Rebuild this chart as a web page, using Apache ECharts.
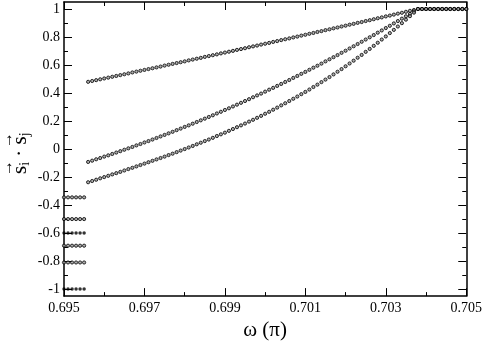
<!DOCTYPE html>
<html>
<head>
<meta charset="utf-8">
<script src="https://cdn.jsdelivr.net/npm/echarts@6/dist/echarts.min.js"></script>
<style>
  html, body { margin: 0; padding: 0; background: #fff; }
  #spin-chart { width: 485px; height: 346px; }
</style>
</head>
<body>
<div id="spin-chart"></div>
<script>
// omega (in units of pi) for the three correlation curves
const curveOmega = [
  0.6956, 0.6957, 0.6958, 0.6959, 0.6960, 0.6961, 0.6962, 0.6963, 0.6964, 0.6965,
  0.6966, 0.6967, 0.6968, 0.6969, 0.6970, 0.6971, 0.6972, 0.6973, 0.6974, 0.6975,
  0.6976, 0.6977, 0.6978, 0.6979, 0.6980, 0.6981, 0.6982, 0.6983, 0.6984, 0.6985,
  0.6986, 0.6987, 0.6988, 0.6989, 0.6990, 0.6991, 0.6992, 0.6993, 0.6994, 0.6995,
  0.6996, 0.6997, 0.6998, 0.6999, 0.7000, 0.7001, 0.7002, 0.7003, 0.7004, 0.7005,
  0.7006, 0.7007, 0.7008, 0.7009, 0.7010, 0.7011, 0.7012, 0.7013, 0.7014, 0.7015,
  0.7016, 0.7017, 0.7018, 0.7019, 0.7020, 0.7021, 0.7022, 0.7023, 0.7024, 0.7025,
  0.7026, 0.7027, 0.7028, 0.7029, 0.7030, 0.7031, 0.7032, 0.7033, 0.7034, 0.7035,
  0.7036, 0.7037, 0.7038, 0.7039, 0.7040, 0.7041, 0.7042, 0.7043, 0.7044, 0.7045,
  0.7046, 0.7047, 0.7048, 0.7049, 0.7050
];
const upperCurve = [
  0.480, 0.486, 0.492, 0.498, 0.504, 0.510, 0.516, 0.522, 0.528, 0.534,
  0.540, 0.547, 0.553, 0.559, 0.565, 0.571, 0.577, 0.583, 0.589, 0.596,
  0.602, 0.608, 0.614, 0.620, 0.626, 0.633, 0.639, 0.645, 0.651, 0.658,
  0.664, 0.670, 0.676, 0.683, 0.689, 0.695, 0.701, 0.708, 0.714, 0.720,
  0.727, 0.733, 0.739, 0.746, 0.752, 0.758, 0.765, 0.771, 0.778, 0.784,
  0.790, 0.797, 0.803, 0.810, 0.816, 0.823, 0.829, 0.836, 0.842, 0.849,
  0.855, 0.862, 0.868, 0.875, 0.881, 0.888, 0.894, 0.901, 0.907, 0.914,
  0.920, 0.927, 0.934, 0.940, 0.947, 0.953, 0.960, 0.967, 0.973, 0.980,
  0.987, 0.993, 1.000, 1, 1, 1, 1, 1, 1, 1,
  1, 1, 1, 1, 1
];
const middleCurve = [
  -0.092, -0.083, -0.073, -0.064, -0.054, -0.045, -0.035, -0.025, -0.015, -0.005,
  0.005, 0.015, 0.026, 0.036, 0.047, 0.057, 0.068, 0.079, 0.090, 0.101,
  0.112, 0.123, 0.135, 0.146, 0.158, 0.169, 0.181, 0.193, 0.205, 0.217,
  0.229, 0.241, 0.254, 0.266, 0.279, 0.291, 0.304, 0.317, 0.330, 0.343,
  0.356, 0.370, 0.383, 0.396, 0.410, 0.424, 0.437, 0.451, 0.465, 0.479,
  0.493, 0.508, 0.522, 0.537, 0.551, 0.566, 0.581, 0.595, 0.610, 0.626,
  0.641, 0.656, 0.671, 0.687, 0.702, 0.718, 0.734, 0.750, 0.766, 0.782,
  0.798, 0.814, 0.831, 0.847, 0.864, 0.880, 0.897, 0.914, 0.931, 0.948,
  0.965, 0.983, 1.000, 1, 1, 1, 1, 1, 1, 1,
  1, 1, 1, 1, 1
];
const lowerCurve = [
  -0.237, -0.228, -0.219, -0.209, -0.200, -0.191, -0.181, -0.172, -0.163, -0.153,
  -0.143, -0.134, -0.124, -0.114, -0.104, -0.094, -0.084, -0.074, -0.064, -0.054,
  -0.043, -0.033, -0.022, -0.011, 0.000, 0.011, 0.022, 0.034, 0.045, 0.057,
  0.068, 0.080, 0.093, 0.105, 0.117, 0.130, 0.143, 0.156, 0.169, 0.182,
  0.196, 0.209, 0.223, 0.237, 0.252, 0.266, 0.281, 0.296, 0.312, 0.327,
  0.343, 0.359, 0.375, 0.392, 0.408, 0.425, 0.443, 0.460, 0.478, 0.496,
  0.514, 0.533, 0.552, 0.571, 0.591, 0.611, 0.631, 0.652, 0.672, 0.694,
  0.715, 0.737, 0.759, 0.782, 0.804, 0.828, 0.851, 0.875, 0.899, 0.924,
  0.949, 0.974, 1.000, 1, 1, 1, 1, 1, 1, 1,
  1, 1, 1, 1, 1
];
// short stacks of points at the left edge
const clusterOmega = [0.6950, 0.6951, 0.6952, 0.6953, 0.6954, 0.6955];
const clusterLevels = [-0.345, -0.5, -0.69, -0.81];
const clusterDarkLevels = [-0.6, -1];

const xTicks = [0.695, 0.697, 0.699, 0.701, 0.703, 0.705];
const yMajor = [-1, -0.8, -0.6, -0.4, -0.2, 0, 0.2, 0.4, 0.6, 0.8, 1];
const yMinor = [-0.9, -0.7, -0.5, -0.3, -0.1, 0.1, 0.3, 0.5, 0.7, 0.9];

const serif = 'Liberation Serif';

function pairs(xs, ys) {
  return xs.map((x, i) => [x, ys[i]]);
}
function rows(xs, levels) {
  const out = [];
  levels.forEach(lv => xs.forEach(x => out.push([x, lv])));
  return out;
}

const chart = echarts.init(document.getElementById('spin-chart'), null, {renderer: 'canvas'});

const hollow = {color: '#999', borderColor: '#000', borderWidth: 1};

function xAx(pos, labels) {
  return {
    type: 'value', position: pos,
    min: xTicks[0], max: xTicks[xTicks.length - 1], interval: 0.002,
    axisLine: {show: true, onZero: false, lineStyle: {color: '#000', width: 1.5}},
    axisTick: {show: true, inside: true, length: 8, lineStyle: {color: '#000'}},
    minorTick: {show: true, splitNumber: 2, length: 4, lineStyle: {color: '#000'}},
    splitLine: {show: false},
    axisLabel: {
      show: labels, margin: 5, color: '#000', fontFamily: serif, fontSize: 14,
      formatter: v => v.toFixed(3)
    },
    name: labels ? 'ω (π)' : '',
    nameLocation: 'middle', nameGap: 18,
    nameTextStyle: {fontFamily: serif, fontSize: 21, color: '#000'}
  };
}
function yAx(pos, ticks, len, labels, line) {
  return {
    type: 'value', position: pos, min: -1.05, max: 1.05,
    axisLine: {show: line, onZero: false, lineStyle: {color: '#000', width: 1.5}},
    axisTick: {show: true, inside: true, length: len, customValues: ticks, lineStyle: {color: '#000'}},
    splitLine: {show: false},
    axisLabel: {
      show: labels, customValues: yMajor, margin: 4, color: '#000',
      fontFamily: serif, fontSize: 14,
      formatter: v => String(+v.toFixed(1))
    }
  };
}

const option = {
  animation: false,
  grid: {left: 64, right: 17, top: 2, bottom: 42},
  xAxis: [xAx('bottom', true), xAx('top', false)],
  yAxis: [
    yAx('left', yMajor, 8, true, true),
    yAx('left', yMinor, 4, false, false),
    yAx('right', yMajor, 8, false, true),
    yAx('right', yMinor, 4, false, false)
  ],
  graphic: [{
    type: 'group', x: 20, y: 150, rotation: Math.PI / 2,
    children: [
      {type: 'text', x: -24, y: 0, style: {
        text: '{s|s}{b|i}{s| · s}{b|j}',
        rich: {
          s: {fontFamily: serif, fontSize: 21, fill: '#000'},
          b: {fontFamily: serif, fontSize: 14, fill: '#000', padding: [10, 0, 0, 0]}
        },
        fill: '#000', verticalAlign: 'middle'
      }},
      {type: 'text', x: -26, y: -12, style: {text: '→', fontFamily: serif, fontSize: 16, fill: '#000', verticalAlign: 'middle'}},
      {type: 'text', x: 2, y: -12, style: {text: '→', fontFamily: serif, fontSize: 16, fill: '#000', verticalAlign: 'middle'}}
    ]
  }],
  series: [
    {type: 'scatter', symbol: 'circle', symbolSize: 3.2, itemStyle: hollow, data: pairs(curveOmega, upperCurve)},
    {type: 'scatter', symbol: 'circle', symbolSize: 3.2, itemStyle: hollow, data: pairs(curveOmega, middleCurve)},
    {type: 'scatter', symbol: 'circle', symbolSize: 3.2, itemStyle: hollow, data: pairs(curveOmega, lowerCurve)},
    {type: 'scatter', symbol: 'circle', symbolSize: 3.2, itemStyle: hollow, data: rows(clusterOmega, clusterLevels)},
    {type: 'scatter', symbol: 'circle', symbolSize: 3.5, itemStyle: {color: '#000'}, data: rows(clusterOmega, clusterDarkLevels)}
  ]
};
chart.setOption(option);
</script>
</body>
</html>
